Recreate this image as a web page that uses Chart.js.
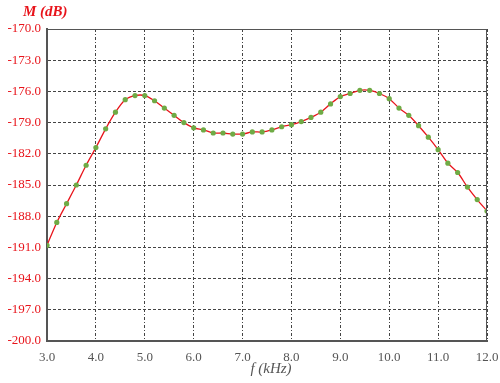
<!DOCTYPE html>
<html>
<head>
<meta charset="utf-8">
<script src="https://cdn.jsdelivr.net/npm/chart.js@4/dist/chart.umd.min.js"></script>
<style>
  html, body { margin: 0; padding: 0; background: #fff; }
  #wrap { width: 500px; height: 383px; }
</style>
</head>
<body>
<div id="wrap"><canvas id="myChart"></canvas></div>
<script>
// frequency (kHz), step 0.2
const freqs = [3.0, 3.2, 3.4, 3.6, 3.8, 4.0, 4.2, 4.4, 4.6, 4.8,
               5.0, 5.2, 5.4, 5.6, 5.8, 6.0, 6.2, 6.4, 6.6, 6.8,
               7.0, 7.2, 7.4, 7.6, 7.8, 8.0, 8.2, 8.4, 8.6, 8.8,
               9.0, 9.2, 9.4, 9.6, 9.8, 10.0, 10.2, 10.4, 10.6, 10.8,
               11.0, 11.2, 11.4, 11.6, 11.8, 12.0];
// magnitude M (dB)
const magDb = [-190.8, -188.6, -186.8, -185.0, -183.1, -181.4, -179.6, -178.0, -176.8, -176.4,
               -176.4, -176.9, -177.6, -178.3, -179.0, -179.5, -179.7, -180.0, -180.0, -180.1,
               -180.1, -179.9, -179.9, -179.7, -179.4, -179.2, -178.9, -178.5, -178.0, -177.2,
               -176.5, -176.2, -175.9, -175.9, -176.2, -176.7, -177.6, -178.3, -179.3, -180.4,
               -181.6, -182.9, -183.8, -185.2, -186.4, -187.5];

const xTicks = [3, 4, 5, 6, 7, 8, 9, 10, 11, 12];
const yTicks = [-200, -197, -194, -191, -188, -185, -182, -179, -176, -173, -170];

const points = freqs.map((f, i) => ({ x: f, y: magDb[i] }));
const serif = '"Liberation Serif", "Times New Roman", serif';

// frame + axis titles
const frameAndTitles = {
    id: 'frameAndTitles',
    afterDraw(chart) {
        const { ctx, chartArea } = chart;
        ctx.save();
        ctx.strokeStyle = '#555';
        ctx.lineWidth = 1;
        ctx.beginPath();
        ctx.moveTo(chartArea.left, chartArea.top + 0.5);
        ctx.lineTo(chartArea.right, chartArea.top + 0.5);
        ctx.moveTo(chartArea.right - 0.5, chartArea.top);
        ctx.lineTo(chartArea.right - 0.5, chartArea.bottom);
        ctx.stroke();

        ctx.fillStyle = '#e8141b';
        ctx.font = 'italic bold 15px ' + serif;
        ctx.textBaseline = 'alphabetic';
        ctx.textAlign = 'left';
        ctx.fillText('M (dB)', 23, 16);

        ctx.fillStyle = '#555';
        ctx.font = 'italic 15px ' + serif;
        ctx.textAlign = 'center';
        ctx.fillText('f (kHz)', 271, 373);
        ctx.restore();
    }
};

const ctx = document.getElementById('myChart').getContext('2d');
new Chart(ctx, {
    type: 'line',
    data: {
        datasets: [{
            data: points,
            borderColor: '#e8141b',
            borderWidth: 1.3,
            backgroundColor: '#6fab45',
            pointBackgroundColor: '#6fab45',
            pointBorderColor: '#6fab45',
            pointRadius: 2.6,
            pointBorderWidth: 0,
            tension: 0.3,
            fill: false
        }]
    },
    options: {
        responsive: true,
        maintainAspectRatio: false,
        animation: false,
        layout: { padding: { left: 0, right: 13, top: 29, bottom: 0 } },
        plugins: {
            legend: { display: false },
            tooltip: { enabled: false }
        },
        scales: {
            x: {
                type: 'linear',
                min: 3, max: 12,
                afterBuildTicks: axis => { axis.ticks = xTicks.map(v => ({ value: v })); },
                afterFit: axis => { axis.height = 42; axis.paddingRight = 0; },
                grid: { color: '#444', lineWidth: 1, drawTicks: false },
                border: { display: true, color: '#555', width: 2, dash: [3, 2, 1, 2] },
                ticks: {
                    padding: 9,
                    color: '#555',
                    font: { family: serif, size: 13 },
                    callback: v => Number(v).toFixed(1)
                }
            },
            y: {
                min: -200, max: -170,
                afterBuildTicks: axis => { axis.ticks = yTicks.map(v => ({ value: v })); },
                afterFit: axis => { axis.width = 47; },
                grid: { color: '#444', lineWidth: 1, drawTicks: false },
                border: { display: true, color: '#555', width: 2, dash: [3, 2] },
                ticks: {
                    padding: 6,
                    color: '#e8141b',
                    font: { family: serif, size: 13 },
                    callback: v => Number(v).toFixed(1)
                }
            }
        }
    },
    plugins: [frameAndTitles]
});
</script>
</body>
</html>
